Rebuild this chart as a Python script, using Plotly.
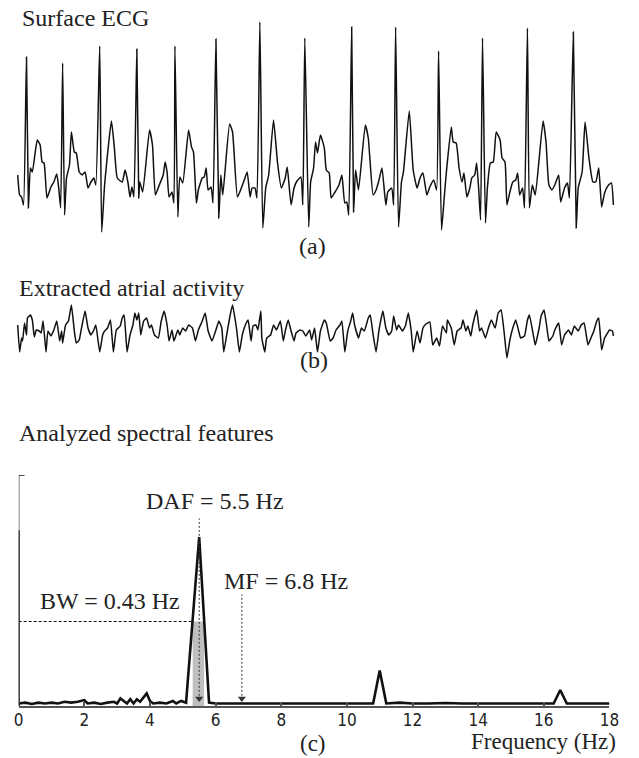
import plotly.graph_objects as go

# ---------------- data ----------------
FS = 100.0  # samples per second

# (a) Surface ECG: sample index and amplitude (uV)
ecg_n = [0, 2, 4, 6, 9, 11, 13, 15, 20, 23, 25, 27, 30, 34, 37, 40, 42, 44, 46, 48, 50, 53, 55, 58, 60,
         63, 66, 69, 72, 75, 78, 80, 84, 86, 89, 96, 99, 102, 107, 110, 113, 115, 117, 119, 122, 124, 125,
         128, 135, 138, 141, 145, 149, 151, 153, 155, 158, 160, 161, 164, 166, 169, 175, 178, 180, 183, 185,
         189, 191, 193, 195, 198, 200, 203, 206, 208, 210, 217, 220, 225, 229, 232, 235, 238, 240, 243, 245,
         248, 251, 254, 257, 262, 266, 270, 274, 276, 280, 283, 286, 290, 292, 294, 298, 300, 303, 305, 307,
         310, 314, 316, 319, 321, 325, 329, 332, 335, 337, 339, 342, 344, 346, 349, 356, 359, 364, 367, 370,
         373, 377, 379, 383, 385, 387, 390, 393, 395, 401, 405, 409, 412, 415, 419, 422, 426, 429, 431, 434,
         437, 439, 444, 446, 449, 452, 455, 457, 460, 463, 465, 468, 470, 472, 474, 476, 479, 481, 484, 487,
         490, 494, 496, 499, 501, 504, 507, 510, 512, 514, 517, 519, 522, 524, 527, 530, 538, 541, 544, 547,
         550, 554, 556, 560, 563, 565, 569, 572, 574, 578, 581, 585, 589, 592, 595, 598, 601, 605, 608, 610]
ecg_uv = [150, -50, -70, -150, 1330, -180, 220, 180, 500, 450, 280, 270, -80, 30, 80, 160, 20, -180, 1270,
          -250, 120, 250, 580, 380, 370, 180, 150, 180, 20, 80, 120, 50, 1440, -420, 50, 690, 420, 120, 80,
          200, 70, -70, 30, -70, 1410, -80, 80, -20, 600, 450, -50, 50, 150, 280, 180, -70, -20, -130, 1440,
          -270, 130, 70, 600, 430, 380, -130, 0, 120, 130, 220, 0, 30, -130, 1510, -280, 150, -50, 660, 580,
          -70, 20, 100, 180, -70, 20, 20, -80, 1680, -380, 20, 150, 700, 280, 20, 120, 230, -150, 20, 90, 130,
          -150, 1520, -370, 80, 220, 480, 370, 550, 420, 200, 170, -80, -20, 50, 150, -130, -120, -250, 1630,
          -220, 200, 0, 650, 520, -50, 0, 100, 220, -150, -20, 20, -150, 1630, -370, 80, 180, 790, 200, 20,
          120, 170, -50, 30, 100, 0, 1390, -400, -50, 180, 630, 480, 470, 220, 80, 170, -70, 20, 120, 150, 270,
          20, -300, 1520, -330, 20, 270, 280, 580, 500, 320, 280, -150, -20, 80, 100, 170, -50, 20, -180, 1620,
          -180, 50, -50, 690, 480, 50, 0, 50, 150, -120, 20, 70, -80, 1580, -380, 20, 180, 680, 320, 80, 80,
          220, -170, -30, 50, 70, -150]

# (b) Extracted atrial activity: sample index and amplitude (a.u.)
aa_n = [0, 2, 4, 5, 7, 9, 10, 13, 15, 17, 19, 22, 24, 26, 29, 31, 34, 37, 40, 43, 45, 46, 49, 52, 55, 58, 60,
        63, 65, 69, 72, 75, 78, 80, 84, 87, 89, 92, 95, 98, 101, 105, 107, 109, 112, 115, 118, 120, 122, 124,
        126, 129, 132, 135, 137, 140, 144, 147, 150, 153, 155, 158, 160, 164, 166, 169, 172, 175, 179, 182,
        185, 189, 192, 195, 199, 203, 206, 209, 211, 214, 217, 220, 224, 227, 230, 234, 236, 239, 241, 244,
        246, 249, 250, 253, 255, 259, 262, 265, 269, 272, 274, 277, 280, 283, 285, 289, 292, 295, 299, 301,
        304, 307, 310, 314, 316, 320, 323, 326, 330, 332, 335, 338, 341, 343, 345, 349, 352, 355, 359, 361,
        364, 367, 370, 374, 377, 380, 383, 385, 388, 390, 394, 397, 400, 403, 405, 409, 412, 415, 418, 422,
        425, 429, 432, 435, 439, 440, 444, 447, 450, 454, 456, 459, 461, 464, 466, 470, 473, 475, 479, 482,
        485, 489, 492, 495, 498, 501, 504, 507, 510, 513, 515, 519, 522, 524, 528, 530, 534, 536, 539, 542,
        544, 548, 550, 554, 557, 560, 564, 567, 570, 574, 577, 580, 584, 587, 590, 593, 595, 598, 601, 604,
        606, 609, 610]
aa_amp = [5, -22, -8, -11, 7, -5, 12, 15, 10, -7, 0, -1, -3, 9, -22, -1, -6, 0, 9, -11, -1, -13, 5, 9, 25,
          -1, -13, -10, 0, 19, 2, -5, 0, 5, -22, -5, -1, 2, 10, -22, 0, 4, 12, 15, -22, -5, 5, 17, 10, 17, -5,
          9, 12, 2, 5, -5, -8, 9, 19, 5, -11, 0, -11, 0, -5, 2, -1, 5, 2, -11, 0, 9, 17, -1, -11, 0, 9, 2,
          -22, -5, 12, 25, 2, -22, -5, 7, 10, -11, 4, 5, 0, 19, -8, -22, -8, -5, 5, 0, 9, -11, -1, 10, -1,
          -11, -3, 0, -1, -6, 0, -10, 2, -22, -1, 10, 7, -11, -8, 0, 5, 9, -22, -1, 9, 17, 5, -8, 2, -1, 12,
          15, -5, -22, 0, 19, 2, -5, -1, 14, 0, 5, -1, 4, 17, -1, -22, -1, -13, 2, 6, 8, -15, -8, -16, 4, -3,
          10, 2, -15, -1, 2, 10, -1, 4, -6, 5, 20, -1, 2, -8, 2, 10, 2, 17, 20, -1, -28, -10, 2, 10, -1, -8,
          -6, 10, 15, -5, -15, 2, 14, 20, 2, -11, -6, 0, 7, -15, -5, 0, -5, 4, -1, 5, 7, -15, -8, -1, 9, 12,
          -20, -8, -3, 0, -1, -6]

# (c) Normalised spectrum
freq_hz = [0.0, 0.2, 0.4, 0.6, 0.8, 1.0, 1.2, 1.4, 1.6, 1.8, 2.0, 2.1, 2.3, 2.5, 2.7, 2.9, 3.0, 3.1, 3.3, 3.4,
           3.5, 3.6, 3.7, 3.9, 4.0, 4.1, 4.3, 4.5, 4.7, 4.8, 4.95, 5.1, 5.5, 5.8, 6.0, 6.5, 7.0, 7.5, 8.0, 8.5,
           9.0, 9.5, 10.0, 10.5, 10.8, 11.0, 11.2, 11.6, 12.0, 12.5, 13.0, 13.5, 14.0, 14.5, 15.0, 15.5, 16.0,
           16.3, 16.5, 16.7, 17.0, 17.5, 18.0]
psd_norm = [0.015, 0.02, 0.012, 0.02, 0.015, 0.02, 0.015, 0.025, 0.02, 0.025, 0.035, 0.015, 0.02, 0.012,
            0.02, 0.025, 0.015, 0.045, 0.015, 0.04, 0.015, 0.04, 0.025, 0.075, 0.03, 0.015, 0.02, 0.015, 0.03,
            0.015, 0.03, 0.02, 1.0, 0.02, 0.015, 0.015, 0.015, 0.015, 0.018, 0.015, 0.015, 0.015, 0.018,
            0.015, 0.015, 0.21, 0.015, 0.02, 0.015, 0.015, 0.018, 0.015, 0.015, 0.015, 0.015, 0.015, 0.015,
            0.015, 0.095, 0.015, 0.015, 0.015, 0.015]
freq_ticks = [0, 2, 4, 6, 8, 10, 12, 14, 16, 18]

DAF = 5.5
MF = 6.8
BW = 0.43
bw_lo, bw_hi = 5.30, 5.65
half_power = 0.5
Y_TOP = 1.367

# ---------------- figure ----------------
W, H = 639, 758
SERIF = "Liberation Serif, Times New Roman, serif"
SANS = "DejaVu Sans Condensed, Liberation Sans Narrow, Arial Narrow, Liberation Sans, Arial, sans-serif"

ecg_t = [n / FS for n in ecg_n]
aa_t = [n / FS for n in aa_n]

fig = go.Figure()
fig.add_trace(go.Scatter(x=ecg_t, y=ecg_uv, mode="lines",
                         line=dict(color="#111", width=1.5, shape="spline", smoothing=0.45),
                         xaxis="x", yaxis="y", hoverinfo="skip"))
fig.add_trace(go.Scatter(x=aa_t, y=aa_amp, mode="lines",
                         line=dict(color="#111", width=1.5, shape="spline", smoothing=0.35),
                         xaxis="x2", yaxis="y2", hoverinfo="skip"))
fig.add_trace(go.Scatter(x=freq_hz, y=psd_norm, mode="lines", line=dict(color="#111", width=2.6),
                         xaxis="x3", yaxis="y3", hoverinfo="skip"))
# arrow heads for DAF and MF
fig.add_trace(go.Scatter(x=[DAF, MF], y=[0.045, 0.045], mode="markers",
                         marker=dict(symbol="triangle-down", size=7, color="#333"),
                         xaxis="x3", yaxis="y3", hoverinfo="skip"))
# invisible trace to carry the tick-label axis
fig.add_trace(go.Scatter(x=[0, 18], y=[0, 0], mode="lines", line=dict(width=0),
                         xaxis="x4", yaxis="y3", hoverinfo="skip", showlegend=False))


def py(p):
    return 1 - p / H


def px(p):
    return p / W


hidden = dict(visible=False, fixedrange=True)
fig.update_layout(
    width=W, height=H, margin=dict(l=0, r=0, t=0, b=0, pad=0),
    paper_bgcolor="white", plot_bgcolor="rgba(0,0,0,0)", showlegend=False,
    xaxis=dict(domain=[0, 1], range=[-0.13, 6.26], anchor="y", **hidden),
    yaxis=dict(domain=[py(250), 1], range=[-600, 1900], anchor="x", **hidden),
    xaxis2=dict(domain=[0, 1], range=[-0.13, 6.26], anchor="y2", **hidden),
    yaxis2=dict(domain=[py(368), py(293)], range=[-38, 37], anchor="x2", **hidden),
    xaxis3=dict(domain=[px(14), px(619)], range=[0, 18], anchor="y3",
                showline=True, linecolor="#555", linewidth=2, mirror=False,
                ticks="inside", ticklen=4, tickwidth=1.5, tickcolor="#555",
                tickvals=freq_ticks, showticklabels=False,
                showgrid=False, zeroline=False, fixedrange=True),
    xaxis4=dict(domain=[px(14), px(619)], range=[0, 18], anchor="free", position=py(708),
                overlaying="x3", showline=False, ticks="",
                tickvals=freq_ticks, ticktext=[str(v) for v in freq_ticks],
                tickfont=dict(family=SANS, size=17, color="#222"),
                showgrid=False, zeroline=False, fixedrange=True),
    yaxis3=dict(domain=[py(706), py(475)], range=[0, Y_TOP], anchor="x3",
                showline=False, showgrid=False, zeroline=False,
                showticklabels=False, ticks="", fixedrange=True),
)

shapes = []
# y axis of spectrum: grey upper part, black lower part, small tick at top
shapes.append(dict(type="line", xref="x3", yref="y3", x0=0, x1=0, y0=0, y1=Y_TOP,
                   line=dict(color="#888", width=2)))
shapes.append(dict(type="line", xref="x3", yref="y3", x0=0, x1=0, y0=0, y1=1.04,
                   line=dict(color="#111", width=2)))
shapes.append(dict(type="line", xref="x3", yref="y3", x0=0, x1=0.18, y0=Y_TOP, y1=Y_TOP,
                   line=dict(color="#111", width=1.5)))
# BW shaded band
shapes.append(dict(type="rect", xref="x3", yref="y3", x0=bw_lo, x1=bw_hi, y0=0, y1=half_power,
                   fillcolor="#bfbfbf", line=dict(width=0), layer="below"))
# half-power dashed line
shapes.append(dict(type="line", xref="x3", yref="y3", x0=0, x1=bw_lo, y0=half_power, y1=half_power,
                   line=dict(color="#111", width=1, dash="3px,2px")))
# DAF and MF dotted markers
shapes.append(dict(type="line", xref="x3", yref="y3", x0=DAF, x1=DAF, y0=0.06, y1=1.11,
                   line=dict(color="#333", width=1, dash="2px,2px")))
shapes.append(dict(type="line", xref="x3", yref="y3", x0=MF, x1=MF, y0=0.06, y1=0.66,
                   line=dict(color="#333", width=1, dash="2px,2px")))
fig.update_layout(shapes=shapes)


def txt(text, x, y, xanchor="left", size=24, family=SERIF):
    return dict(text=text, x=px(x), y=py(y), xref="paper", yref="paper", xanchor=xanchor,
                yanchor="middle", showarrow=False, font=dict(family=family, size=size, color="#222"))


annotations = [
    txt("Surface ECG", 15, 18),
    txt("(a)", 315, 246, "center"),
    txt("Extracted atrial activity", 12, 288),
    txt("(b)", 316, 360, "center"),
    txt("Analyzed spectral features", 12, 433),
    txt(f"DAF = {DAF} Hz", 215, 501, "center"),
    txt(f"MF = {MF} Hz", 288, 581, "center"),
    txt(f"BW = {BW} Hz", 108, 601, "center"),
    txt("Frequency (Hz)", 628, 741, "right", size=23),
    txt("(c)", 315, 743, "center", size=23),
]
fig.update_layout(annotations=annotations)

fig.write_html("out.html", config={"displayModeBar": False},
               post_script="document.body.style.margin='0px';")
